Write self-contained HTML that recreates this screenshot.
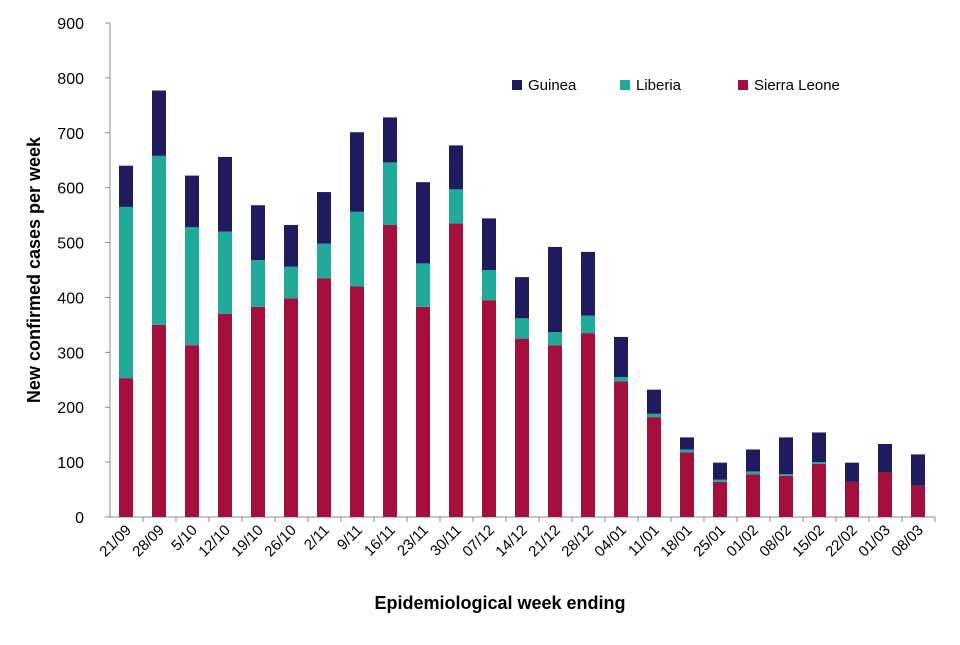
<!DOCTYPE html>
<html><head><meta charset="utf-8"><style>
body{margin:0;background:#fff;}
svg{font-family:"Liberation Sans",Arial,sans-serif;}
</style></head><body>
<svg id="chart" width="960" height="640"></svg>
<script>
const categories=["21/09","28/09","5/10","12/10","19/10","26/10","2/11","9/11","16/11","23/11","30/11","07/12","14/12","21/12","28/12","04/01","11/01","18/01","25/01","01/02","08/02","15/02","22/02","01/03","08/03"];
const sierraLeone=[253,350,313,370,383,398,435,420,532,383,535,395,325,313,335,247,182,118,64,78,75,97,64,82,57];
const liberia=[312,308,215,150,85,58,63,136,114,79,62,55,37,24,32,8,6,5,4,5,3,3,0,0,0];
const guinea=[75,119,94,136,100,76,94,145,82,148,80,94,75,155,116,73,44,22,31,40,67,54,35,51,57];
const yTicks=[0,100,200,300,400,500,600,700,800,900];
const NS="http://www.w3.org/2000/svg";
const svg=document.getElementById('chart');
const x0=110,x1=935,yBase=517,yTop=23,yMax=900;
const y=v=>yBase-(v/yMax)*(yBase-yTop);
const step=(x1-x0)/categories.length;
const xc=i=>x0+step*(i+0.5)-0.5;
function mk(t,a){const e=document.createElementNS(NS,t);for(const k in a)e.setAttribute(k,a[k]);svg.appendChild(e);return e;}
yTicks.forEach(t=>{
  const tk=mk('line',{x1:x0-5,x2:x0,y1:y(t),y2:y(t),stroke:'#888'});
  
  
  const tx=mk('text',{x:x0-26,y:y(t)+6,'text-anchor':'end','font-size':16,fill:'#000'});
  tx.textContent=t;
  
  
});
const ax=mk('line',{x1:x0,x2:x0,y1:yTop,y2:yBase,stroke:'#888'});


const bx=mk('line',{x1:x0,x2:x1,y1:yBase,y2:yBase,stroke:'#888'});


const bw=14;
categories.forEach((c,i)=>{
  const s=sierraLeone[i],l=liberia[i],g=guinea[i];
  const segs=[[0,s,'#a50f3c','sierra-leone'],[s,s+l,'#21a99a','liberia'],[s+l,s+l+g,'#1e1b5e','guinea']];
  segs.forEach(([a,b,col,n])=>{
    const r=mk('rect',{x:xc(i)-bw/2,y:y(b),width:bw,height:Math.max(0,y(a)-y(b)),fill:col});
    
    
  });
  const tk=mk('line',{x1:x0+step*(i+1),x2:x0+step*(i+1),y1:yBase,y2:yBase+5,stroke:'#888'});
  
  
  const tx=mk('text',{x:xc(i)+6,y:yBase+14,'text-anchor':'end','font-size':15,fill:'#000',transform:`rotate(-45 ${xc(i)+6} ${yBase+14})`});
  tx.textContent=c;
  
  
});
const yt=mk('text',{x:40,y:270,'text-anchor':'middle','font-size':18,'font-weight':'bold',transform:'rotate(-90 40 270)'});
yt.textContent='New confirmed cases per week';


const xt=mk('text',{x:500,y:609,'text-anchor':'middle','font-size':18,'font-weight':'bold'});
xt.textContent='Epidemiological week ending';


[['Guinea','#1e1b5e',512],['Liberia','#21a99a',620],['Sierra Leone','#a50f3c',738]].forEach(([n,c,lx])=>{
  const r=mk('rect',{x:lx,y:80,width:10,height:10,fill:c});
  
  
  const t=mk('text',{x:lx+16,y:90,'font-size':15});
  t.textContent=n;
  
  
});
</script>
</body></html>
